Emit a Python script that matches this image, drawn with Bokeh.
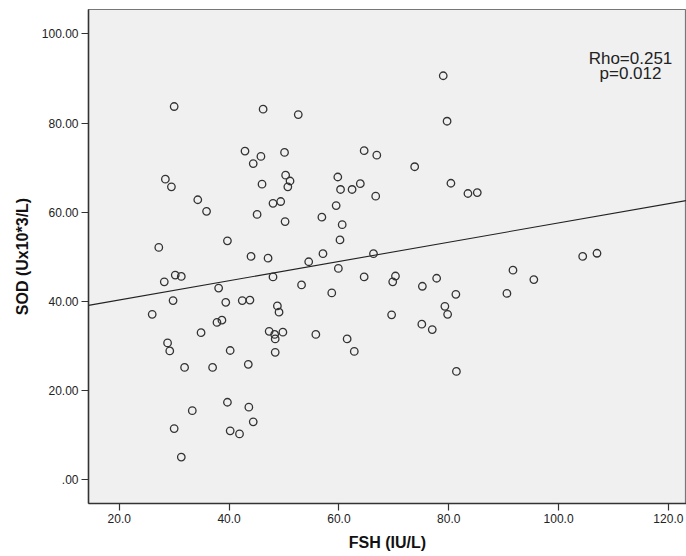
from bokeh.plotting import figure
from bokeh.models import Label, FixedTicker, ColumnDataSource
from bokeh.embed import file_html
from bokeh.resources import INLINE

# FSH (IU/L) values
fsh = [30.0, 46.2, 52.6, 79.0, 79.7, 42.9, 45.8, 44.4, 50.1, 64.6,
       66.9, 73.8, 28.4, 29.5, 50.3, 51.1, 50.7, 46.0, 59.8, 60.3,
       62.4, 63.9, 66.7, 80.4, 83.5, 85.2, 34.3, 35.9, 48.0, 49.4,
       45.1, 50.2, 59.5, 56.9, 60.6, 60.2, 27.2, 39.7, 44.0, 47.1,
       54.5, 57.1, 66.3, 59.9, 30.2, 31.3, 28.2, 48.0, 53.2, 64.6,
       70.3, 69.8, 75.2, 77.8, 81.3, 58.7, 38.1, 29.8, 26.0, 39.4,
       42.4, 43.8, 48.8, 49.1, 38.7, 37.8, 34.9, 47.3, 48.3, 49.8,
       48.4, 28.8, 29.2, 40.2, 48.4, 43.5, 31.9, 37.0, 55.8, 61.5,
       62.8, 69.6, 75.1, 77.0, 79.3, 79.8, 81.4, 39.7, 43.6, 33.3,
       44.4, 30.0, 40.2, 41.9, 31.3, 91.7, 95.5, 90.6, 104.4, 107.0]

# SOD (U x10^3/L) values
sod = [83.7, 83.1, 81.9, 90.6, 80.4, 73.7, 72.5, 70.9, 73.4, 73.8,
       72.8, 70.2, 67.4, 65.7, 68.3, 67.0, 65.7, 66.3, 67.9, 65.1,
       65.1, 66.4, 63.6, 66.5, 64.2, 64.4, 62.8, 60.2, 62.0, 62.4,
       59.5, 57.9, 61.5, 58.9, 57.2, 53.8, 52.1, 53.6, 50.1, 49.7,
       48.9, 50.7, 50.7, 47.4, 45.9, 45.6, 44.4, 45.5, 43.7, 45.5,
       45.7, 44.4, 43.4, 45.2, 41.6, 41.9, 43.0, 40.2, 37.1, 39.8,
       40.2, 40.3, 39.0, 37.6, 35.8, 35.3, 33.0, 33.3, 32.6, 33.1,
       31.6, 30.7, 28.9, 29.0, 28.6, 25.9, 25.2, 25.2, 32.6, 31.6,
       28.8, 37.0, 34.9, 33.7, 38.9, 37.1, 24.3, 17.4, 16.3, 15.5,
       13.0, 11.5, 11.0, 10.3, 5.1, 47.0, 44.9, 41.8, 50.1, 50.8]

# Fit line (SOD = intercept + slope * FSH)
fit_intercept = 36.0
fit_slope = 0.216

x_ticks = [20, 40, 60, 80, 100, 120]
x_tick_labels = ["20.0", "40.0", "60.0", "80.0", "100.0", "120.0"]
y_ticks = [0, 20, 40, 60, 80, 100]
y_tick_labels = [".00", "20.00", "40.00", "60.00", "80.00", "100.00"]

annot_lines = ["Rho=0.251", "p=0.012"]

FONT = "Liberation Sans"
x_lo, x_hi = 14.4, 123.3
y_lo, y_hi = -5.3, 105.45

p = figure(width=686, height=556, output_backend="svg", toolbar_location=None,
           x_range=(x_lo, x_hi), y_range=(y_lo, y_hi),
           min_border_left=88, min_border_right=0, min_border_top=9,
           min_border_bottom=53)
p.background_fill_color = "#f0f0f0"
p.border_fill_color = "white"
p.outline_line_color = "#777777"
p.outline_line_width = 1.2
p.xgrid.visible = False
p.ygrid.visible = False

fit_x = [x_lo, x_hi]
fit_y = [fit_intercept + fit_slope * v for v in fit_x]
p.line(fit_x, fit_y, line_color="#222222", line_width=1.1)

src = ColumnDataSource(dict(x=fsh, y=sod))
p.scatter("x", "y", source=src, marker="circle", size=7.5, fill_color=None,
          line_color="#333333", line_width=1.3)

for ax, ticks, labels in ((p.xaxis[0], x_ticks, x_tick_labels),
                          (p.yaxis[0], y_ticks, y_tick_labels)):
    ax.ticker = FixedTicker(ticks=ticks)
    ax.major_label_overrides = {t: l for t, l in zip(ticks, labels)}
    ax.minor_tick_line_color = None
    ax.major_tick_in = 0
    ax.major_tick_out = 7
    ax.major_tick_line_color = "#333333"
    ax.major_tick_line_width = 1.2
    ax.axis_line_color = "#333333"
    ax.axis_line_width = 1.5
    ax.major_label_text_font = FONT
    ax.major_label_text_font_size = "12px"
    ax.major_label_text_color = "#222222"
    ax.major_label_standoff = 3
    ax.axis_label_text_font = FONT
    ax.axis_label_text_font_size = "16px"
    ax.axis_label_text_font_style = "bold"
    ax.axis_label_text_color = "#111111"
    ax.axis_label_standoff = 8

p.xaxis.axis_label = "FSH (IU/L)"
p.yaxis.axis_label = "SOD (Ux10*3/L)"

p.add_layout(Label(x=542, y=445, x_units="screen", y_units="screen",
                   text=annot_lines[0], text_align="center",
                   text_baseline="alphabetic", text_font=FONT,
                   text_font_size="17px", text_color="#222222"))
p.add_layout(Label(x=542, y=430, x_units="screen", y_units="screen",
                   text=annot_lines[1], text_align="center",
                   text_baseline="alphabetic", text_font=FONT,
                   text_font_size="17px", text_color="#222222"))

open("out.html", "w").write(file_html(p, INLINE))
